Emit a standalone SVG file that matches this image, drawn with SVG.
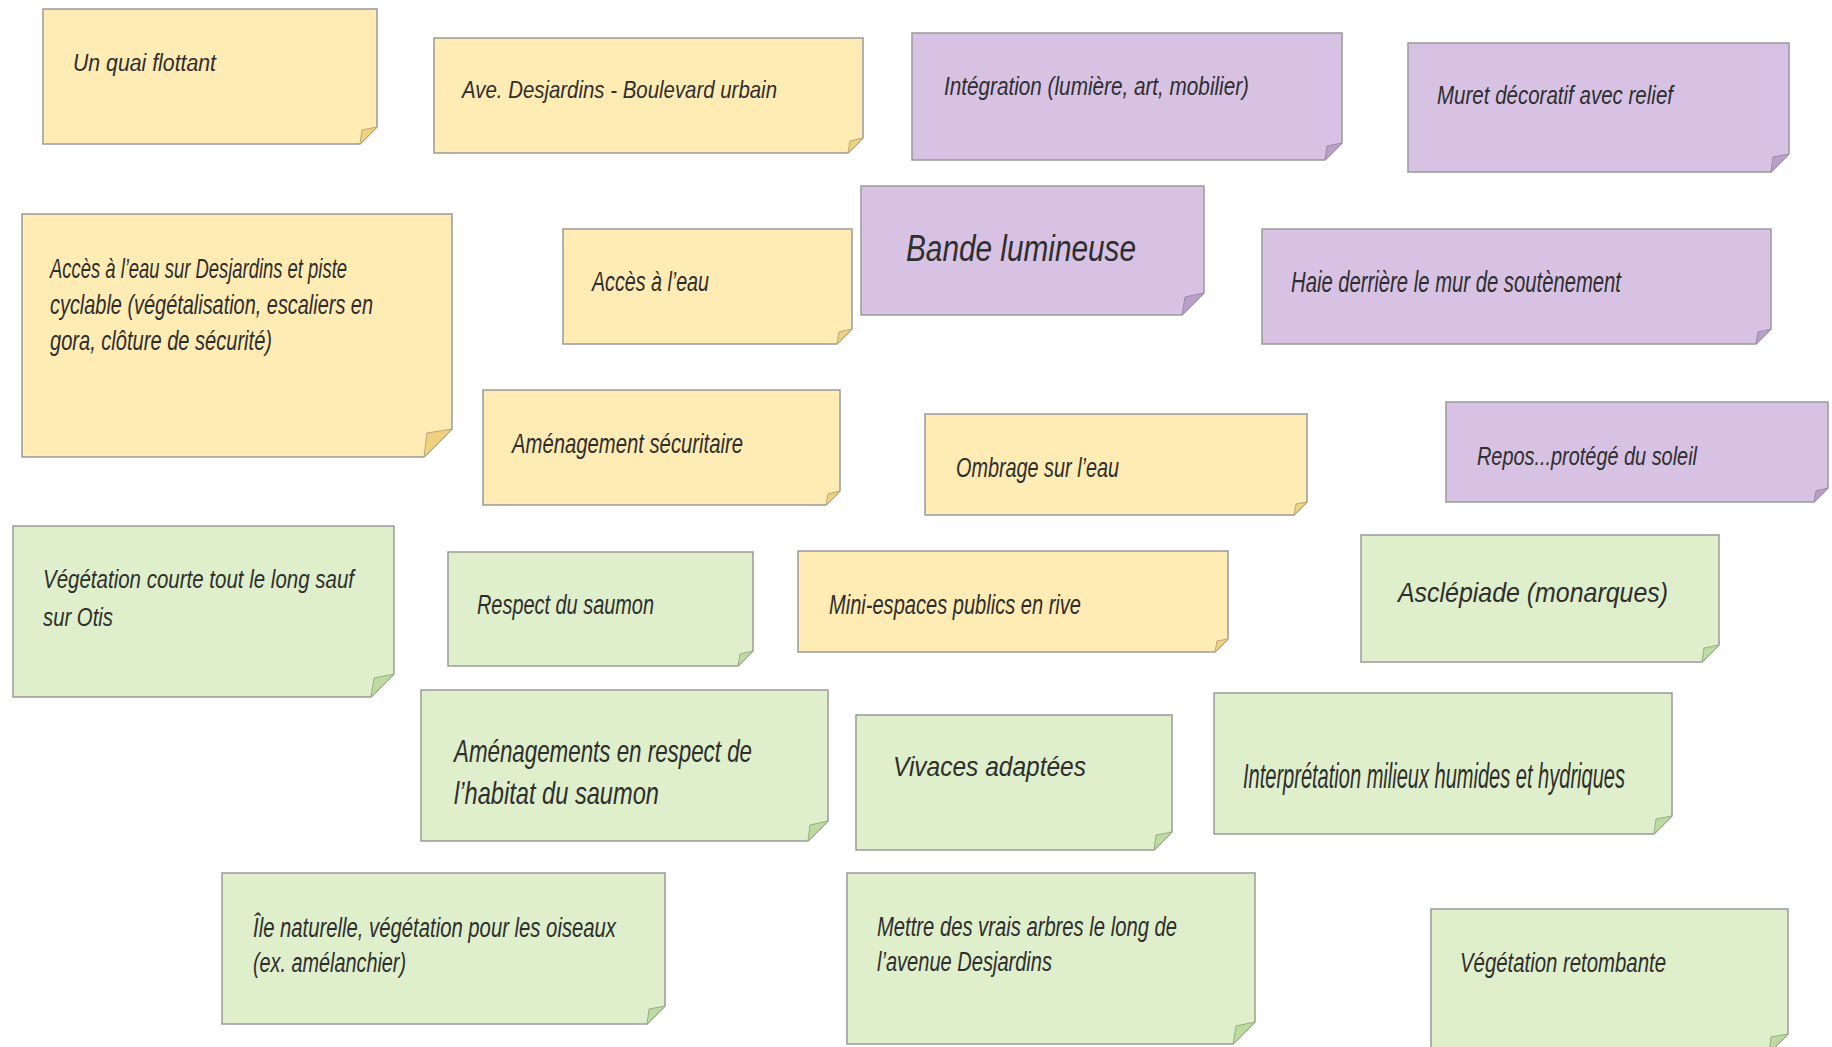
<svg xmlns="http://www.w3.org/2000/svg" width="1832" height="1047" viewBox="0 0 1832 1047">
<style>
.n{stroke:#9a9a9a;stroke-width:1.5;stroke-linejoin:miter}
.y{fill:#FFEBB4}.p{fill:#D7C2E3}.g{fill:#DFEFCB}
.fy{fill:#F0D27E;stroke:#b9a77a;stroke-width:1}
.fp{fill:#B8A0CA;stroke:#9c8aa8;stroke-width:1}
.fg{fill:#BDDB9F;stroke:#98ad86;stroke-width:1}
.t{font-family:"Liberation Sans Narrow","Liberation Sans","DejaVu Sans Condensed",sans-serif;font-style:italic;fill:#2e2e2e}
</style>
<rect width="1832" height="1047" fill="#ffffff"/>
<g id="connectors"/>
<g id="n1"><polygon class="n y" points="43,9 377,9 377,127 360,144 43,144"/><polygon class="fy" points="360,144 362,130 377,127"/><text class="t" x="73" y="71" font-size="23" textLength="143" lengthAdjust="spacingAndGlyphs">Un quai flottant</text></g>
<g id="n2"><polygon class="n y" points="434,38 863,38 863,138 848,153 434,153"/><polygon class="fy" points="848,153 850,141 863,138"/><text class="t" x="462" y="98" font-size="24" textLength="315" lengthAdjust="spacingAndGlyphs">Ave. Desjardins - Boulevard urbain</text></g>
<g id="n3"><polygon class="n p" points="912,33 1342,33 1342,143 1325,160 912,160"/><polygon class="fp" points="1325,160 1327,146 1342,143"/><text class="t" x="944" y="95" font-size="25" textLength="305" lengthAdjust="spacingAndGlyphs">Intégration (lumière, art, mobilier)</text></g>
<g id="n4"><polygon class="n p" points="1408,43 1789,43 1789,154 1771,172 1408,172"/><polygon class="fp" points="1771,172 1773,157 1789,154"/><text class="t" x="1437" y="104" font-size="26" textLength="236" lengthAdjust="spacingAndGlyphs">Muret décoratif avec relief</text></g>
<g id="n5"><polygon class="n y" points="22,214 452,214 452,429 424,457 22,457"/><polygon class="fy" points="424,457 427,433 452,429"/><text class="t" x="50" y="278" font-size="28" textLength="297" lengthAdjust="spacingAndGlyphs">Accès à l’eau sur Desjardins et piste</text><text class="t" x="50" y="314" font-size="28" textLength="323" lengthAdjust="spacingAndGlyphs">cyclable (végétalisation, escaliers en</text><text class="t" x="50" y="350" font-size="28" textLength="222" lengthAdjust="spacingAndGlyphs">gora, clôture de sécurité)</text></g>
<g id="n6"><polygon class="n y" points="563,229 852,229 852,329 837,344 563,344"/><polygon class="fy" points="837,344 839,332 852,329"/><text class="t" x="592" y="291" font-size="28" textLength="117" lengthAdjust="spacingAndGlyphs">Accès à l’eau</text></g>
<g id="n7"><polygon class="n p" points="861,186 1204,186 1204,293 1182,315 861,315"/><polygon class="fp" points="1182,315 1185,297 1204,293"/><text class="t" x="906" y="261" font-size="36" textLength="230" lengthAdjust="spacingAndGlyphs">Bande lumineuse</text></g>
<g id="n8"><polygon class="n p" points="1262,229 1771,229 1771,329 1756,344 1262,344"/><polygon class="fp" points="1756,344 1758,332 1771,329"/><text class="t" x="1291" y="292" font-size="29" textLength="330" lengthAdjust="spacingAndGlyphs">Haie derrière le mur de soutènement</text></g>
<g id="n9"><polygon class="n y" points="483,390 840,390 840,491 826,505 483,505"/><polygon class="fy" points="826,505 828,494 840,491"/><text class="t" x="512" y="453" font-size="28" textLength="231" lengthAdjust="spacingAndGlyphs">Aménagement sécuritaire</text></g>
<g id="n10"><polygon class="n y" points="925,414 1307,414 1307,502 1294,515 925,515"/><polygon class="fy" points="1294,515 1296,504 1307,502"/><text class="t" x="956" y="477" font-size="28" textLength="163" lengthAdjust="spacingAndGlyphs">Ombrage sur l’eau</text></g>
<g id="n11"><polygon class="n p" points="1446,402 1828,402 1828,488 1814,502 1446,502"/><polygon class="fp" points="1814,502 1816,491 1828,488"/><text class="t" x="1477" y="465" font-size="25" textLength="220" lengthAdjust="spacingAndGlyphs">Repos...protégé du soleil</text></g>
<g id="n12"><polygon class="n g" points="13,526 394,526 394,674 371,697 13,697"/><polygon class="fg" points="371,697 374,678 394,674"/><text class="t" x="43" y="588" font-size="25" textLength="311" lengthAdjust="spacingAndGlyphs">Végétation courte tout le long sauf</text><text class="t" x="43" y="626" font-size="25" textLength="70" lengthAdjust="spacingAndGlyphs">sur Otis</text></g>
<g id="n13"><polygon class="n g" points="448,552 753,552 753,651 738,666 448,666"/><polygon class="fg" points="738,666 740,654 753,651"/><text class="t" x="477" y="614" font-size="27" textLength="177" lengthAdjust="spacingAndGlyphs">Respect du saumon</text></g>
<g id="n14"><polygon class="n y" points="798,551 1228,551 1228,639 1215,652 798,652"/><polygon class="fy" points="1215,652 1217,641 1228,639"/><text class="t" x="829" y="614" font-size="27" textLength="252" lengthAdjust="spacingAndGlyphs">Mini-espaces publics en rive</text></g>
<g id="n15"><polygon class="n g" points="1361,535 1719,535 1719,645 1702,662 1361,662"/><polygon class="fg" points="1702,662 1704,648 1719,645"/><text class="t" x="1398" y="602" font-size="28" textLength="270" lengthAdjust="spacingAndGlyphs">Asclépiade (monarques)</text></g>
<g id="n16"><polygon class="n g" points="421,690 828,690 828,821 808,841 421,841"/><polygon class="fg" points="808,841 810,825 828,821"/><text class="t" x="454" y="762" font-size="32" textLength="298" lengthAdjust="spacingAndGlyphs">Aménagements en respect de</text><text class="t" x="454" y="804" font-size="32" textLength="205" lengthAdjust="spacingAndGlyphs">l’habitat du saumon</text></g>
<g id="n17"><polygon class="n g" points="856,715 1172,715 1172,832 1154,850 856,850"/><polygon class="fg" points="1154,850 1156,835 1172,832"/><text class="t" x="893" y="776" font-size="27" textLength="193" lengthAdjust="spacingAndGlyphs">Vivaces adaptées</text></g>
<g id="n18"><polygon class="n g" points="1214,693 1672,693 1672,816 1654,834 1214,834"/><polygon class="fg" points="1654,834 1656,819 1672,816"/><text class="t" x="1243" y="788" font-size="35" textLength="382" lengthAdjust="spacingAndGlyphs">Interprétation milieux humides et hydriques</text></g>
<g id="n19"><polygon class="n g" points="222,873 665,873 665,1006 647,1024 222,1024"/><polygon class="fg" points="647,1024 649,1009 665,1006"/><text class="t" x="253" y="937" font-size="27" textLength="363" lengthAdjust="spacingAndGlyphs">Île naturelle, végétation pour les oiseaux</text><text class="t" x="253" y="972" font-size="27" textLength="153" lengthAdjust="spacingAndGlyphs">(ex. amélanchier)</text></g>
<g id="n20"><polygon class="n g" points="847,873 1255,873 1255,1022 1233,1044 847,1044"/><polygon class="fg" points="1233,1044 1236,1026 1255,1022"/><text class="t" x="877" y="936" font-size="27" textLength="300" lengthAdjust="spacingAndGlyphs">Mettre des vrais arbres le long de</text><text class="t" x="877" y="971" font-size="27" textLength="175" lengthAdjust="spacingAndGlyphs">l’avenue Desjardins</text></g>
<g id="n21"><polygon class="n g" points="1431,909 1788,909 1788,1034 1769,1053 1431,1053"/><polygon class="fg" points="1769,1053 1771,1037 1788,1034"/><text class="t" x="1460" y="972" font-size="27" textLength="206" lengthAdjust="spacingAndGlyphs">Végétation retombante</text></g>
</svg>
